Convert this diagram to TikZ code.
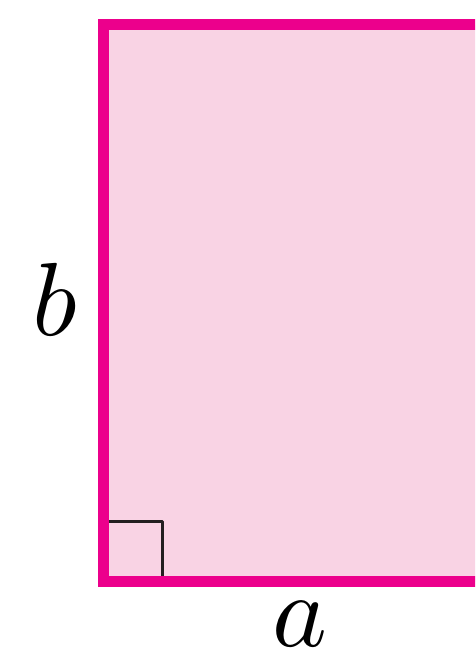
\documentclass[tikz,border=0pt]{standalone}
\usepackage{tikz}
\definecolor{rimpink}{HTML}{EC008C}
\definecolor{fillpink}{HTML}{F9D3E4}
\definecolor{markblack}{HTML}{231F20}
\tikzset{
  side/.style={inner sep=0pt, scale=10.4},
}

\begin{document}
\begin{tikzpicture}[x=1pt,y=-1pt]
        \useasboundingbox (0,0) rectangle (475,651);
        \clip (0,0) rectangle (475,651);
        \coordinate (tl) at (103,24.5);
        \coordinate (bl) at (103,581.5);
        \coordinate (br) at (530,581.5);
        \fill[fillpink] (tl) rectangle (br);
        \draw[markblack,line width=3pt,line join=round] (108,521) -- (162,521) -- (162,578);
        \draw[rimpink,line width=11pt,line join=miter] (530,24.5) -- (tl) -- (bl) -- (br);
        \node[side] (lblb) at (55,299) {\(b\)};
        \node[side,anchor=north] (lbla) at (300,600) {\(a\)};
    \end{tikzpicture}
\end{document}
